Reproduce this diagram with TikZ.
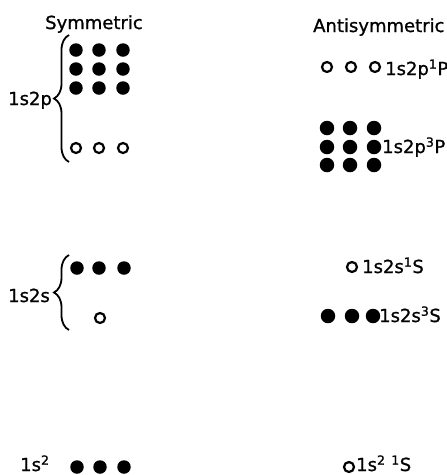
\documentclass[tikz,border=0pt]{standalone}
\usepackage{fontspec}
\setmainfont[FakeBold=1]{DejaVu Sans}
\usetikzlibrary{decorations.pathreplacing}
\begin{document}
\begin{tikzpicture}[x=1pt,y=-1pt,
  fdot/.style={circle,fill=black,inner sep=0pt,minimum size=13.5pt},
  bdot/.style={circle,fill=black,inner sep=0pt,minimum size=14.5pt},
  odot/.style={circle,draw=black,line width=2.2pt,inner sep=0pt,minimum size=10pt},
  lbl/.style={anchor=base west,inner sep=0pt,font=\fontsize{18}{20}\selectfont},
  brc/.style={decorate,decoration={brace,amplitude=15pt,aspect=0.5},line width=1.8pt}]
\useasboundingbox (0,0) rectangle (447,475);

% headings
\node[lbl] (hsym) at (45,29) {Symmetric};
\node[lbl] (hanti) at (313,32) {Antisymmetric};

% ---- 1s2p, symmetric ----
\node[lbl] (l2p) at (8,105) {1s2p};
\coordinate (b1bot) at (69,162);
\coordinate (b1top) at (69,35);
\draw[brc] (b1bot) -- (b1top);
\foreach \r/\y in {1/50,2/69,3/88}
  \foreach \c/\x in {1/76,2/99,3/123}
    \node[fdot] (sp\r\c) at (\x,\y) {};
\foreach \c/\x in {1/76,2/99,3/123}
  \node[odot] (spo\c) at (\x,148) {};

% ---- 1s2p, antisymmetric ----
\foreach \c/\x in {1/327,2/351,3/375}
  \node[odot] (apo\c) at (\x,67) {};
\node[lbl] (a1P) at (385,75) {1s2p\textsuperscript{1}P};
\foreach \r/\y in {1/128,2/147,3/165}
  \foreach \c/\x in {1/327,2/350,3/374}
    \node[bdot] (ap\r\c) at (\x,\y) {};
\node[lbl] (a3P) at (382,153) {1s2p\textsuperscript{3}P};

% ---- 1s2s, symmetric ----
\node[lbl] (l2s) at (8,302) {1s2s};
\coordinate (b2bot) at (69,330);
\coordinate (b2top) at (69,255);
\draw[brc] (b2bot) -- (b2top);
\foreach \c/\x in {1/77,2/99,3/124}
  \node[fdot] (ss\c) at (\x,268) {};
\node[odot] (sso) at (100,318) {};

% ---- 1s2s, antisymmetric ----
\node[odot] (aso) at (352,267) {};
\node[lbl] (a1S) at (362,273) {1s2s\textsuperscript{1}S};
\foreach \c/\x in {1/328,2/352,3/373}
  \node[bdot] (as\c) at (\x,316) {};
\node[lbl] (a3S) at (379,322) {1s2s\textsuperscript{3}S};

% ---- 1s^2 ----
\node[lbl] (lg) at (20,471) {1s\textsuperscript{2}};
\foreach \c/\x in {1/77,2/100,3/124}
  \node[fdot] (g\c) at (\x,467) {};
\node[odot] (go) at (349,467) {};
\node[lbl] (a1g) at (356,471) {1s\textsuperscript{2} \textsuperscript{1}S};
\end{tikzpicture}
\end{document}
